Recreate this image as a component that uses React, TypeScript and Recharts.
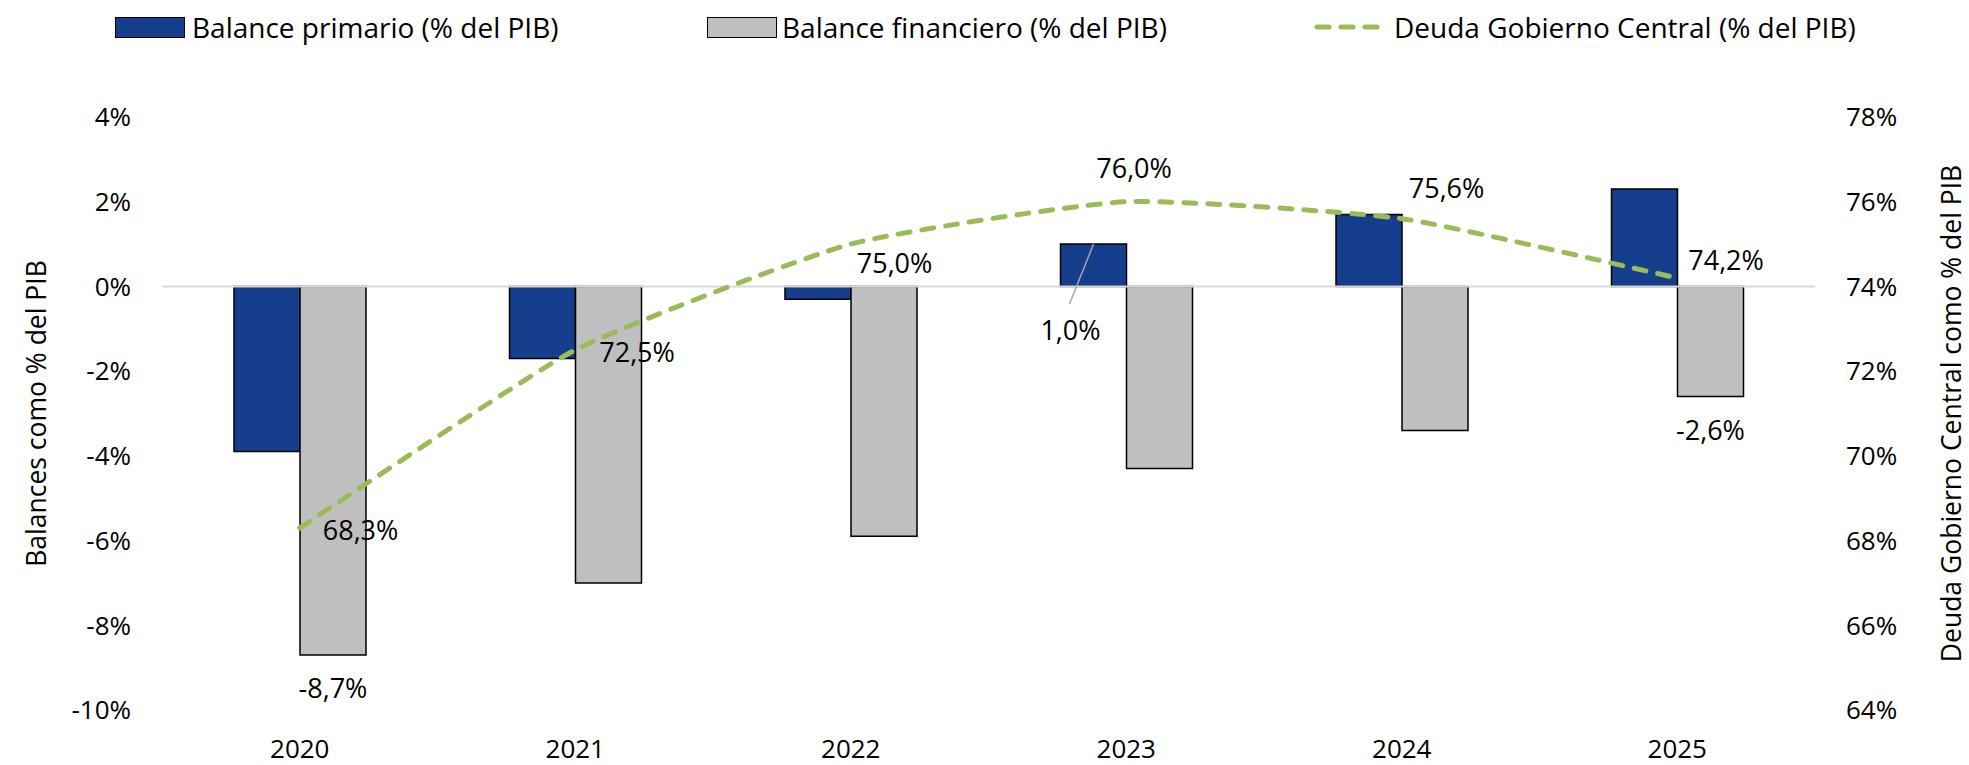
import React from 'react'
import { Bar, ComposedChart, Label, LabelList, Line, ReferenceLine, XAxis, YAxis } from 'recharts'

const years = ['2020', '2021', '2022', '2023', '2024', '2025']
const balancePrimario = [-3.9, -1.7, -0.3, 1.0, 1.7, 2.3]
const balanceFinanciero = [-8.7, -7.0, -5.9, -4.3, -3.4, -2.6]
const deudaGobierno = [68.3, 72.5, 75.0, 76.0, 75.6, 74.2]

const balanceTicks = [-10, -8, -6, -4, -2, 0, 2, 4]
const deudaTicks = [64, 66, 68, 70, 72, 74, 76, 78]

// only a few bars carry a value label in the original
const primarioLabeled = ['2023']
const financieroLabeled = ['2020', '2025']

const seriesNames = {
  primario: 'Balance primario (% del PIB)',
  financiero: 'Balance financiero (% del PIB)',
  deuda: 'Deuda Gobierno Central (% del PIB)',
}

const COLORS = {
  primario: '#153e8c',
  financiero: '#bfbfbf',
  deuda: '#9bbb59',
  zero: '#d9d9d9',
  text: '#000000',
}

const FONT = '"Open Sans", "DejaVu Sans", sans-serif'

// where each debt label sits relative to its point (dx, dy in px)
const deudaLabelOffsets: [number, number][] = [
  [23, 2],
  [24, 2],
  [6, 18],
  [-30, -34],
  [7, -31],
  [11, -18],
]

const data = years.map((year, i) => ({
  year,
  primario: balancePrimario[i],
  financiero: balanceFinanciero[i],
  deuda: deudaGobierno[i],
}))

const fmt = (v: number) => `${v.toFixed(1).replace('.', ',')}%`

// Excel-style smoothed line: a cardinal spline through the points, with some tension
// so the segments stay close to straight like the original's.
const cardinalCurve = (tension: number) => {
  const k = (1 - tension) / 6
  return (context: any) => {
    let xs: number[] = []
    let ys: number[] = []
    let area = false
    return {
      areaStart() {
        area = true
      },
      areaEnd() {
        area = false
      },
      lineStart() {
        xs = []
        ys = []
      },
      point(x: number, y: number) {
        xs.push(+x)
        ys.push(+y)
      },
      lineEnd() {
        const n = xs.length
        if (!n) return
        if (area) context.lineTo(xs[0], ys[0])
        else context.moveTo(xs[0], ys[0])
        for (let i = 0; i < n - 1; i++) {
          const a = i > 0 ? i - 1 : i
          const d = i + 2 < n ? i + 2 : i + 1
          context.bezierCurveTo(
            xs[i] + k * (xs[i + 1] - xs[a]),
            ys[i] + k * (ys[i + 1] - ys[a]),
            xs[i + 1] - k * (xs[d] - xs[i]),
            ys[i + 1] - k * (ys[d] - ys[i]),
            xs[i + 1],
            ys[i + 1],
          )
        }
      },
    }
  }
}

const DeudaLabel = (props: any) => {
  const { x, y, value, index } = props
  const [dx, dy] = deudaLabelOffsets[index] ?? [10, 0]
  return (
    <text x={x + dx} y={y + dy} dominantBaseline="central" fontSize={27} fontFamily={FONT} fill={COLORS.text}>
      {fmt(value)}
    </text>
  )
}

const FinancieroLabel = (props: any) => {
  const { x, y, width, height, value, index } = props
  if (!financieroLabeled.includes(years[index])) return null
  const bottom = Math.max(y, y + height)
  return (
    <text
      x={x + width / 2}
      y={bottom + 33}
      textAnchor="middle"
      dominantBaseline="central"
      fontSize={27}
      fontFamily={FONT}
      fill={COLORS.text}
    >
      {fmt(value)}
    </text>
  )
}

const PrimarioLabel = (props: any) => {
  const { x, y, width, height, value, index } = props
  if (!primarioLabeled.includes(years[index])) return null
  const top = Math.min(y, y + height)
  const cx = x + width / 2
  return (
    <g>
      <line x1={cx} y1={top} x2={cx - 24} y2={top + 60} stroke="#a6a6a6" strokeWidth={1.5} />
      <text
        x={cx - 23}
        y={top + 85}
        textAnchor="middle"
        dominantBaseline="central"
        fontSize={27}
        fontFamily={FONT}
        fill={COLORS.text}
      >
        {fmt(value)}
      </text>
    </g>
  )
}

const AxisTitle = ({ viewBox, value, inset }: any) => {
  const cx = viewBox.x + inset
  const cy = viewBox.y + viewBox.height / 2
  return (
    <text
      x={cx}
      y={cy}
      transform={`rotate(-90 ${cx} ${cy})`}
      textAnchor="middle"
      dominantBaseline="central"
      fontSize={26.5}
      fontFamily={FONT}
      fill={COLORS.text}
    >
      {value}
    </text>
  )
}

const legendText: React.CSSProperties = {
  position: 'absolute',
  top: 27,
  transform: 'translateY(-50%)',
  fontSize: 28,
  fontFamily: FONT,
  color: COLORS.text,
  whiteSpace: 'nowrap',
  lineHeight: 1,
}

const swatch = (left: number, color: string): React.CSSProperties => ({
  position: 'absolute',
  left,
  top: 17,
  width: 68,
  height: 19,
  background: color,
  border: '1px solid #000',
})

const Legend = () => (
  <div style={{ position: 'absolute', left: 0, top: 0, width: 1969, height: 60 }}>
    <div style={swatch(115, COLORS.primario)} />
    <div style={{ ...legendText, left: 192 }}>{seriesNames.primario}</div>
    <div style={swatch(707, COLORS.financiero)} />
    <div style={{ ...legendText, left: 782 }}>{seriesNames.financiero}</div>
    <svg style={{ position: 'absolute', left: 1312, top: 17 }} width={74} height={20}>
      <line x1={5} y1={10} x2={69} y2={10} stroke={COLORS.deuda} strokeWidth={5} strokeDasharray="12 12" strokeLinecap="round" />
    </svg>
    <div style={{ ...legendText, left: 1394 }}>{seriesNames.deuda}</div>
  </div>
)

export default function App() {
  return (
    <div style={{ position: 'relative', width: 1969, height: 765, background: '#fff' }}>
      <style>{'body{margin:0}'}</style>
      <Legend />
      <ComposedChart
        width={1969}
        height={765}
        data={data}
        margin={{ top: 117, right: 0, bottom: 15, left: 0 }}
        barGap={0}
      >
        <XAxis
          dataKey="year"
          height={40}
          axisLine={false}
          tickLine={false}
          tickMargin={24}
          tick={{ fontSize: 26, fontFamily: FONT, fill: COLORS.text }}
        />
        <YAxis
          yAxisId="left"
          width={162}
          domain={[-10, 4]}
          ticks={balanceTicks}
          tickFormatter={(v) => `${v}%`}
          axisLine={false}
          tickLine={false}
          tickMargin={25}
          tick={{ fontSize: 26, fontFamily: FONT, fill: COLORS.text }}
        >
          <Label content={(p: any) => <AxisTitle {...p} value="Balances como % del PIB" inset={36} />} />
        </YAxis>
        <YAxis
          yAxisId="right"
          orientation="right"
          width={154}
          domain={[64, 78]}
          ticks={deudaTicks}
          tickFormatter={(v) => `${v}%`}
          axisLine={false}
          tickLine={false}
          tickMargin={25}
          tick={{ fontSize: 26, fontFamily: FONT, fill: COLORS.text }}
        >
          <Label
            content={(p: any) => <AxisTitle {...p} value="Deuda Gobierno Central como % del PIB" inset={136} />}
          />
        </YAxis>
        <Bar
          yAxisId="left"
          dataKey="primario"
          name={seriesNames.primario}
          fill={COLORS.primario}
          stroke="#000"
          strokeWidth={1.5}
          barSize={66}
          isAnimationActive={false}
        >
          <LabelList dataKey="primario" content={PrimarioLabel} />
        </Bar>
        <Bar
          yAxisId="left"
          dataKey="financiero"
          name={seriesNames.financiero}
          fill={COLORS.financiero}
          stroke="#000"
          strokeWidth={1.5}
          barSize={66}
          isAnimationActive={false}
        >
          <LabelList dataKey="financiero" content={FinancieroLabel} />
        </Bar>
        <ReferenceLine yAxisId="left" y={0} stroke={COLORS.zero} strokeWidth={2} />
        <Line
          yAxisId="right"
          type={cardinalCurve(0.5) as any}
          dataKey="deuda"
          name={seriesNames.deuda}
          stroke={COLORS.deuda}
          strokeWidth={5}
          strokeDasharray="12 12"
          strokeLinecap="round"
          dot={false}
          activeDot={false}
          isAnimationActive={false}
        >
          <LabelList dataKey="deuda" content={DeudaLabel} />
        </Line>
      </ComposedChart>
    </div>
  )
}
